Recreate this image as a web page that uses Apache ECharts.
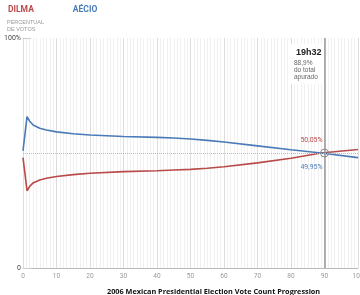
<!DOCTYPE html>
<html>
<head>
    <meta charset="UTF-8">
    <title>2006 Mexican Presidential Election Vote Count Progression</title>
    <script src="https://cdn.jsdelivr.net/npm/echarts@6/dist/echarts.min.js"></script>
    <style>
        html, body { margin: 0; padding: 0; background: #fff; }
        #chart { width: 360px; height: 295px; }
    </style>
</head>
<body>
<div id="chart"></div>
<script type="text/javascript">
    // percentual apurado (eixo x)
    var apurado = [0, 1.2, 2, 3, 5, 7, 10, 15, 20, 30, 40, 45, 50, 55, 60, 70, 80, 89, 100];
    var aecio = [50.9, 65.8, 63.8, 62.2, 60.8, 60.0, 59.2, 58.4, 57.8, 57.2, 56.8, 56.5, 56.1, 55.5, 54.8, 53.1, 51.4, 50.0, 48.0];
    var dilma = [48.0, 33.6, 35.5, 37.0, 38.3, 39.0, 39.8, 40.6, 41.2, 41.9, 42.3, 42.6, 42.9, 43.4, 44.0, 45.7, 47.7, 50.0, 51.5];
    var marcoX = 90;
    var marcoHora = '19h32';
    var marcoTotal = '88,9%';
    var finalDilma = '50,05%';
    var finalAecio = '49,95%';

    var RED = '#b94a4a';
    var BLUE = '#4a7bb8';

    function pares(ys) {
        var out = [];
        for (var i = 0; i < apurado.length; i++) {
            out.push([apurado[i], ys[i]]);
        }
        return out;
    }

    var chart = echarts.init(document.getElementById('chart'));
    chart.setOption({
        animation: false,
        textStyle: {fontFamily: 'Roboto, sans-serif'},
        title: {
            text: '2006 Mexican Presidential Election Vote Count Progression',
            left: 107,
            bottom: 0,
            padding: 0,
            textStyle: {fontFamily: 'Open Sans', fontSize: 7.3, fontWeight: 'bold', color: '#111'}
        },
        legend: {
            left: 3,
            top: 3,
            padding: 0,
            icon: 'none',
            itemWidth: 0,
            itemGap: 34,
            selectedMode: false,
            data: [
                {name: 'DILMA', textStyle: {color: RED}},
                {name: 'AÉCIO', textStyle: {color: BLUE}}
            ],
            textStyle: {fontSize: 8.5, fontWeight: 'bold'}
        },
        graphic: [
            {type: 'text', left: 7, top: 19, style: {text: 'PERCENTUAL\nDE VOTOS', fontSize: 5.5, lineHeight: 7, fill: '#999'}},
            {type: 'rect', left: 291, top: 44, shape: {width: 31, height: 40}, style: {fill: '#fff'}, z: 10},
            {type: 'text', left: 296, top: 48, z: 11, style: {text: marcoHora, fontSize: 9, fontWeight: 'bold', fill: '#222'}},
            {type: 'text', left: 294, top: 60, z: 11, style: {text: marcoTotal + '\ndo total\napurado', fontSize: 6.5, lineHeight: 7, fill: '#666', align: 'center', width: 26}}
        ],
        grid: {left: 23, right: 2, top: 38, bottom: 27, outerBoundsMode: 'none'},
        xAxis: {
            type: 'value',
            min: 0,
            max: 100,
            interval: 10,
            axisLine: {lineStyle: {color: '#bbb'}},
            axisTick: {show: false},
            axisLabel: {fontSize: 6.5, color: '#999', margin: 5},
            splitLine: {show: true, lineStyle: {color: '#ddd'}},
            minorTick: {show: false, splitNumber: 10},
            minorSplitLine: {show: true, lineStyle: {color: '#f1f1f1'}}
        },
        yAxis: {
            type: 'value',
            min: 0,
            max: 100,
            interval: 100,
            axisLine: {show: true, lineStyle: {color: '#ddd'}},
            axisTick: {show: true, inside: true, length: 8, lineStyle: {color: '#ccc'}},
            axisLabel: {
                fontSize: 7, color: '#444', margin: 2,
                formatter: function (v) { return v === 100 ? '100%' : '0'; }
            },
            splitLine: {show: false}
        },
        series: [
            {
                name: 'DILMA',
                type: 'line',
                data: pares(dilma),
                showSymbol: false,
                lineStyle: {color: RED, width: 1.6},
                itemStyle: {color: RED},
                markLine: {
                    silent: true,
                    symbol: 'none',
                    label: {show: false},
                    data: [
                        {yAxis: 50, lineStyle: {color: '#bbb', type: 'dotted', width: 1}},
                        {xAxis: marcoX, lineStyle: {color: '#999', type: 'solid', width: 1.5}}
                    ]
                },
                markPoint: {
                    silent: true,
                    symbol: 'circle',
                    symbolSize: 8,
                    itemStyle: {color: 'rgba(255,255,255,0)', borderColor: '#888', borderWidth: 1},
                    label: {show: true, formatter: finalDilma, position: 'top', offset: [-13, 0], fontSize: 7, color: RED},
                    data: [{coord: [marcoX, 50]}]
                }
            },
            {
                name: 'AÉCIO',
                type: 'line',
                data: pares(aecio),
                showSymbol: false,
                lineStyle: {color: BLUE, width: 1.6},
                itemStyle: {color: BLUE},
                markPoint: {
                    silent: true,
                    symbol: 'circle',
                    symbolSize: 0,
                    label: {show: true, formatter: finalAecio, position: 'bottom', offset: [-13, 6], fontSize: 7, color: BLUE},
                    data: [{coord: [marcoX, 50]}]
                }
            }
        ]
    });
</script>
</body>
</html>
